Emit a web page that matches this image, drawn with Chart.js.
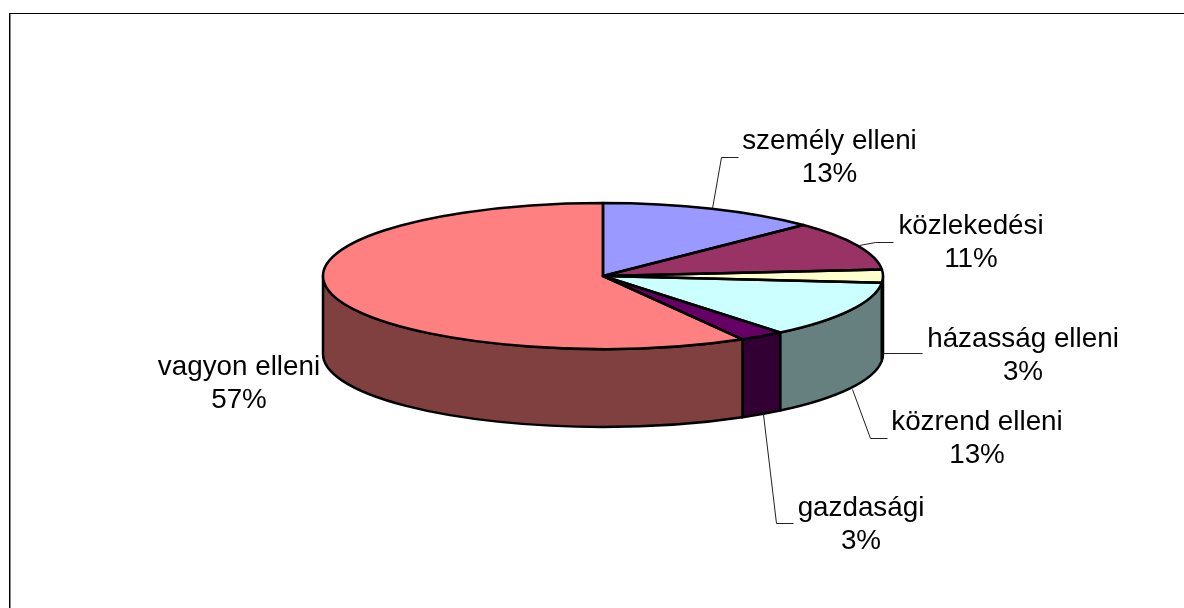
<!DOCTYPE html>
<html>
<head>
<meta charset="utf-8">
<style>
  html, body { margin: 0; padding: 0; background: #fff; overflow: hidden; }
  #wrap { position: relative; width: 1184px; height: 608px; }
  canvas { display: block; }
</style>
<script src="https://cdn.jsdelivr.net/npm/chart.js@4/dist/chart.umd.min.js"></script>
</head>
<body>
<div id="wrap"><canvas id="pie" width="1184" height="608"></canvas></div>
<script>
const categories = ['személy elleni', 'közlekedési', 'házasság elleni', 'közrend elleni', 'gazdasági', 'vagyon elleni'];
const values = [12.7, 10.9, 2.9, 12.6, 2.6, 58.3];
const percentLabels = ['13%', '11%', '3%', '13%', '3%', '57%'];
const topColors = ['#9999FF', '#993366', '#FFFFCC', '#CCFFFF', '#660066', '#FF8080'];
const sideColors = ['#4D4D80', '#4D1A33', '#808066', '#668080', '#330033', '#804040'];

// label centre + leader polyline for each category, in page pixels
const labelPlacement = [
  { x: 829.5, y: 141, leader: [[738, 157], [721, 157], [712, 208]] },
  { x: 971, y: 226, leader: [[893, 242], [875, 242], [859, 245]] },
  { x: 1023, y: 339, leader: [[922, 353], [883, 353]] },
  { x: 977, y: 422, leader: [[887, 438], [870, 438], [852, 389]] },
  { x: 861, y: 508, leader: [[793, 523], [776, 523], [763, 414]] },
  { x: 239, y: 367, leader: [] }
];

// where the squashed disc sits on the page
const disc = { cx: 603, cy: 276, rx: 280, ry: 73, depth: 78 };

function sidePath(ctx, from, to) {
  // from/to are chart.js angles (0 = 3 o'clock), clipped to the front half already
  ctx.beginPath();
  ctx.ellipse(disc.cx, disc.cy, disc.rx, disc.ry, 0, from, to);
  ctx.lineTo(disc.cx + disc.rx * Math.cos(to), disc.cy + disc.ry * Math.sin(to) + disc.depth);
  ctx.ellipse(disc.cx, disc.cy + disc.depth, disc.rx, disc.ry, 0, to, from, true);
  ctx.closePath();
}

const pie3d = {
  id: 'pie3d',
  beforeDatasetsDraw(chart) {
    const ctx = chart.ctx;
    const arcs = chart.getDatasetMeta(0).data;
    ctx.save();
    ctx.lineWidth = 2.5;
    ctx.strokeStyle = '#000';
    ctx.lineJoin = 'round';
    // front wall, only the part of each slice facing the viewer
    arcs.forEach((arc, i) => {
      const from = Math.max(arc.startAngle, 0);
      const to = Math.min(arc.endAngle, Math.PI);
      if (to <= from) return;
      sidePath(ctx, from, to);
      ctx.fillStyle = sideColors[i];
      ctx.fill();
      ctx.stroke();
    });
    ctx.restore();
    // library draws the slices, mapped on to the flat ellipse
    const a = arcs[0];
    ctx.save();
    ctx.translate(disc.cx, disc.cy);
    ctx.scale(disc.rx / a.outerRadius, disc.ry / a.outerRadius);
    ctx.translate(-a.x, -a.y);
  },
  afterDatasetsDraw(chart) {
    const ctx = chart.ctx;
    const arcs = chart.getDatasetMeta(0).data;
    ctx.restore();
    ctx.save();
    // slice outlines in page pixels so the pen width stays even
    ctx.lineWidth = 2.5;
    ctx.strokeStyle = '#000';
    ctx.lineJoin = 'round';
    arcs.forEach(arc => {
      ctx.beginPath();
      ctx.moveTo(disc.cx, disc.cy);
      ctx.ellipse(disc.cx, disc.cy, disc.rx, disc.ry, 0, arc.startAngle, arc.endAngle);
      ctx.closePath();
      ctx.stroke();
    });
    // leaders
    ctx.lineWidth = 1;
    ctx.strokeStyle = '#222';
    labelPlacement.forEach(p => {
      if (!p.leader.length) return;
      ctx.beginPath();
      p.leader.forEach((pt, k) => k ? ctx.lineTo(pt[0] + 0.5, pt[1] + 0.5) : ctx.moveTo(pt[0] + 0.5, pt[1] + 0.5));
      ctx.stroke();
    });
    // two line labels
    ctx.fillStyle = '#000';
    ctx.font = '27.8px "Liberation Sans"';
    ctx.textAlign = 'center';
    ctx.textBaseline = 'middle';
    categories.forEach((name, i) => {
      const p = labelPlacement[i];
      ctx.fillText(name, p.x, p.y);
      ctx.fillText(percentLabels[i], p.x, p.y + 33);
    });
    ctx.restore();
  }
};

// chart frame, only the top and left edges fall inside the crop
const frame = {
  id: 'frame',
  beforeDraw(chart) {
    const ctx = chart.ctx;
    ctx.save();
    ctx.fillStyle = '#fff';
    ctx.fillRect(0, 0, chart.width, chart.height);
    ctx.fillStyle = '#000';
    ctx.fillRect(9, 13, 1175, 1);
    ctx.fillRect(9, 13, 1, 595);
    ctx.fillStyle = '#888';
    ctx.fillRect(10, 14, 1, 594);
    ctx.restore();
  }
};

new Chart(document.getElementById('pie'), {
  type: 'pie',
  data: {
    labels: categories,
    datasets: [{
      data: values,
      backgroundColor: topColors,
      borderWidth: 0
    }]
  },
  options: {
    responsive: false,
    animation: false,
    plugins: {
      legend: { display: false },
      tooltip: { enabled: false }
    }
  },
  plugins: [frame, pie3d]
});
</script>
</body>
</html>
